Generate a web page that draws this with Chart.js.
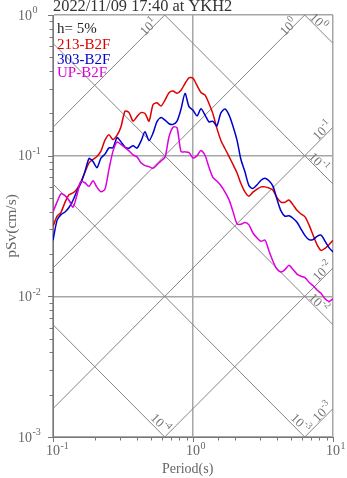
<!DOCTYPE html>
<html>
<head>
<meta charset="utf-8">
<script src="https://cdn.jsdelivr.net/npm/chart.js@4.4.1/dist/chart.umd.min.js"></script>
<style>
  html, body { margin: 0; padding: 0; background: #fff; }
  canvas { display: block; }
</style>
</head>
<body>
<canvas id="psvChart" width="347" height="478"></canvas>
<script>
// periods (s)
const periods = [
  0.100, 0.107, 0.114, 0.122, 0.130, 0.139, 0.148, 0.158, 0.169, 0.181,
  0.193, 0.206, 0.220, 0.235, 0.251, 0.268, 0.287, 0.306, 0.327, 0.349,
  0.373, 0.398, 0.425, 0.454, 0.485, 0.518, 0.553, 0.591, 0.631, 0.674,
  0.720, 0.769, 0.821, 0.877, 0.936, 1.00, 1.07, 1.14, 1.22, 1.30,
  1.39, 1.48, 1.58, 1.69, 1.81, 1.93, 2.06, 2.20, 2.35, 2.51,
  2.68, 2.87, 3.06, 3.27, 3.49, 3.73, 3.98, 4.25, 4.54, 4.85,
  5.18, 5.53, 5.91, 6.31, 6.74, 7.20, 7.69, 8.21, 8.77, 9.36,
  10.0
];

// pSv (cm/s), h = 5%
const sv213 = [
  0.0315, 0.0371, 0.0396, 0.0467, 0.0528, 0.0543, 0.0578, 0.0648, 0.0762, 0.0889,
  0.0941, 0.0988, 0.1076, 0.1289, 0.1411, 0.1301, 0.1400, 0.1608, 0.2074, 0.2024,
  0.1760, 0.1895, 0.2024, 0.1997, 0.1760, 0.2299, 0.2375, 0.2251, 0.2483, 0.2803,
  0.2877, 0.2775, 0.2917, 0.3259, 0.3579, 0.3549, 0.3144, 0.2812, 0.2695, 0.2348,
  0.1974, 0.1569, 0.1289, 0.1125, 0.0985, 0.0866, 0.0757, 0.0634, 0.0552, 0.0515,
  0.0550, 0.0578, 0.0600, 0.0600, 0.0589, 0.0568, 0.0503, 0.0468, 0.0467, 0.0484,
  0.0447, 0.0409, 0.0385, 0.0367, 0.0322, 0.0273, 0.0233, 0.0212, 0.0219, 0.0233,
  0.0250
];
const sv303 = [
  0.0250, 0.0348, 0.0381, 0.0398, 0.0428, 0.0482, 0.0559, 0.0637, 0.0768, 0.0955,
  0.0908, 0.0822, 0.0960, 0.1025, 0.1137, 0.1137, 0.1344, 0.1253, 0.1150, 0.1131,
  0.1178, 0.1131, 0.1268, 0.1477, 0.1281, 0.1446, 0.1748, 0.1867, 0.1789, 0.1686,
  0.1670, 0.1760, 0.2143, 0.2771, 0.2232, 0.2101, 0.1917, 0.2153, 0.1942, 0.1740,
  0.1755, 0.1626, 0.2007, 0.2143, 0.1942, 0.1621, 0.1294, 0.0939, 0.0768, 0.0612,
  0.0584, 0.0621, 0.0669, 0.0692, 0.0663, 0.0605, 0.0490, 0.0405, 0.0371, 0.0374,
  0.0359, 0.0336, 0.0301, 0.0270, 0.0253, 0.0253, 0.0267, 0.0272, 0.0247, 0.0222,
  0.0207
];
const svUP = [
  0.0398, 0.0469, 0.0535, 0.0520, 0.0482, 0.0430, 0.0521, 0.0657, 0.0642, 0.0605,
  0.0663, 0.0597, 0.0554, 0.0578, 0.0798, 0.1073, 0.1251, 0.1201, 0.1140, 0.1082,
  0.1013, 0.0980, 0.0889, 0.0850, 0.0836, 0.0813, 0.0860, 0.0918, 0.0973, 0.1364,
  0.1595, 0.1580, 0.1069, 0.1064, 0.1052, 0.0963, 0.1000, 0.1090, 0.1003, 0.0828,
  0.0697, 0.0660, 0.0614, 0.0553, 0.0485, 0.0401, 0.0329, 0.0325, 0.0335, 0.0322,
  0.0282, 0.0260, 0.0246, 0.0251, 0.0210, 0.0177, 0.0156, 0.0149, 0.0155, 0.0166,
  0.0155, 0.0144, 0.0139, 0.0136, 0.0126, 0.0119, 0.0111, 0.0105, 0.0096, 0.0092,
  0.0096
];

const seriesNames = ["213-B2F", "303-B2F", "UP-B2F"];
const seriesColors = ["#dd0000", "#0000cc", "#dd00dd"];
const titleText = "2022/11/09 17:40 at YKH2";
const dampingText = "h= 5%";

// tripartite guide lines
const dispLevels = [1, 0.1, 0.01, 0.001, 0.0001];   // Sd (cm)
const accLevels = [10, 1, 0.1, 0.01, 0.001];        // Sa (cm/s2)
const xTicks = [0.1, 1, 10];
const yTicks = [0.001, 0.01, 0.1, 1];

const TWO_PI = 2 * Math.PI;
const SERIF = '"Liberation Serif", "DejaVu Serif", serif';

function isDecade(v) {
    const l = Math.log10(v);
    return Math.abs(l - Math.round(l)) < 1e-6;
}

const guideSets = [];
dispLevels.forEach(sd => {
    guideSets.push({
        kind: "disp", level: sd,
        data: [{ x: 0.1, y: TWO_PI * sd / 0.1 }, { x: 10, y: TWO_PI * sd / 10 }],
        borderColor: "#858585", borderWidth: 1, pointRadius: 0, showLine: true, order: 10
    });
});
accLevels.forEach(sa => {
    guideSets.push({
        kind: "acc", level: sa,
        data: [{ x: 0.1, y: sa * 0.1 / TWO_PI }, { x: 10, y: sa * 10 / TWO_PI }],
        borderColor: "#858585", borderWidth: 1, pointRadius: 0, showLine: true, order: 10
    });
});

const dataSets = [sv213, sv303, svUP].map((vals, i) => ({
    label: seriesNames[i],
    data: periods.map((p, j) => ({ x: p, y: vals[j] })),
    borderColor: seriesColors[i],
    borderWidth: 1.5,
    pointRadius: 0,
    showLine: true,
    tension: 0.25,
    order: 3 - i
}));

// draw "10" with raised exponent
function drawPow(ctx, exp, x, y, baseSize, supSize, align) {
    const base = "10";
    const sup = String(exp);
    ctx.font = baseSize + "px " + SERIF;
    const bw = ctx.measureText(base).width;
    ctx.font = supSize + "px " + SERIF;
    const sw = ctx.measureText(sup).width;
    let x0 = x;
    if (align === "center") x0 = x - (bw + sw) / 2;
    if (align === "base-center") x0 = x - bw / 2;
    ctx.textAlign = "left";
    ctx.textBaseline = "alphabetic";
    ctx.font = baseSize + "px " + SERIF;
    ctx.fillText(base, x0, y);
    ctx.font = supSize + "px " + SERIF;
    ctx.fillText(sup, x0 + bw + 0.5, y - baseSize * 0.45);
}

const decorPlugin = {
    id: "decor",
    afterDatasetsDraw(chart) {
        const { ctx, chartArea: a, scales: { x, y } } = chart;
        ctx.save();

        // guide line labels
        chart.data.datasets.forEach(ds => {
            if (!ds.kind) return;
            const p1 = { x: x.getPixelForValue(ds.data[0].x), y: y.getPixelForValue(ds.data[0].y) };
            const p2 = { x: x.getPixelForValue(ds.data[1].x), y: y.getPixelForValue(ds.data[1].y) };
            const len = Math.hypot(p2.x - p1.x, p2.y - p1.y);
            const u = { x: (p2.x - p1.x) / len, y: (p2.y - p1.y) / len };
            // exit point at the right end of the visible part
            let t = (a.right - p1.x) / u.x;
            let side = "right";
            if (u.y < 0) {
                const tt = (a.top - p1.y) / u.y;
                if (tt < t) { t = tt; side = "top"; }
            } else {
                const tt = (a.bottom - p1.y) / u.y;
                if (tt < t) { t = tt; side = "bottom"; }
            }
            const tIn = ds.kind === "acc" ? (a.bottom - p1.y) / u.y : (a.top - p1.y) / u.y;
            if (t <= Math.max(0, tIn)) return;
            const ex = p1.x + u.x * t, ey = p1.y + u.y * t;
            let back, perp;
            if (ds.kind === "acc") { back = side === "top" ? 20 : 10; perp = side === "top" ? 4 : 6; }
            else { back = side === "right" ? 26 : 13; perp = side === "right" ? 6 : 7.5; }
            const n = { x: u.y, y: -u.x };
            const cx = ex - u.x * back + n.x * perp;
            const cy = ey - u.y * back + n.y * perp;
            ctx.save();
            ctx.translate(cx, cy);
            ctx.rotate(Math.atan2(u.y, u.x));
            ctx.fillStyle = "#747474";
            drawPow(ctx, Math.round(Math.log10(ds.level)), 0, 5, 13, 9.5, "center");
            ctx.restore();
        });

        // in-plot legend
        ctx.textAlign = "left";
        ctx.textBaseline = "alphabetic";
        ctx.font = "15px " + SERIF;
        ctx.fillStyle = "#222";
        ctx.fillText(dampingText, a.left + 4, 33);
        const rows = [48.5, 63.5, 77];
        seriesNames.forEach((name, i) => {
            ctx.fillStyle = seriesColors[i];
            ctx.fillText(name, a.left + 4, rows[i]);
        });

        ctx.restore();
    },
    afterDraw(chart) {
        const { ctx, chartArea: a, scales: { x, y } } = chart;
        ctx.save();
        ctx.strokeStyle = "#777";
        ctx.lineWidth = 1;

        // outward tick marks
        y.ticks.forEach(tk => {
            const py = Math.round(y.getPixelForValue(tk.value)) + 0.5;
            const l = isDecade(tk.value) ? 5 : 3.5;
            ctx.beginPath();
            ctx.moveTo(a.left - l, py);
            ctx.lineTo(a.left, py);
            ctx.stroke();
        });
        x.ticks.forEach(tk => {
            const px = Math.round(x.getPixelForValue(tk.value)) + 0.5;
            const l = isDecade(tk.value) ? 5 : 3.5;
            ctx.beginPath();
            ctx.moveTo(px, a.bottom);
            ctx.lineTo(px, a.bottom + l);
            ctx.stroke();
        });

        // tick labels
        ctx.fillStyle = "#666";
        yTicks.forEach(v => {
            drawPow(ctx, Math.round(Math.log10(v)), 18, y.getPixelForValue(v) + 4.5, 14, 10, "left");
        });
        xTicks.forEach(v => {
            drawPow(ctx, Math.round(Math.log10(v)), x.getPixelForValue(v), 455, 14, 10, "base-center");
        });

        // axis titles
        ctx.font = "14px " + SERIF;
        ctx.textAlign = "left";
        ctx.fillText("Period(s)", 162, 473);
        ctx.save();
        ctx.translate(16, (a.top + a.bottom) / 2);
        ctx.rotate(-Math.PI / 2);
        ctx.textAlign = "center";
        ctx.font = "15.5px " + SERIF;
        ctx.fillText("pSv(cm/s)", 0, 0);
        ctx.restore();

        // title
        ctx.fillStyle = "#333";
        ctx.font = "16.4px " + SERIF;
        ctx.textAlign = "left";
        ctx.fillText(titleText, a.left, 11);
        ctx.restore();
    }
};

const gridColor = c => (c.tick && isDecade(c.tick.value)) ? "#a6a6a6" : "rgba(0,0,0,0)";

new Chart(document.getElementById("psvChart"), {
    type: "scatter",
    data: { datasets: [...dataSets, ...guideSets] },
    options: {
        responsive: false,
        animation: false,
        layout: { padding: { top: 15, right: 14, left: 0, bottom: 0 } },
        plugins: {
            legend: { display: false },
            tooltip: { enabled: false },
            title: { display: false }
        },
        scales: {
            x: {
                type: "logarithmic",
                min: 0.1,
                max: 10,
                ticks: { display: false },
                grid: { drawTicks: false, color: gridColor, lineWidth: 1.5 },
                border: { color: "#777", width: 1 },
                afterFit: s => { s.height = 41; }
            },
            y: {
                type: "logarithmic",
                min: 0.001,
                max: 1,
                ticks: { display: false },
                grid: { drawTicks: false, color: gridColor, lineWidth: 1.5 },
                border: { color: "#777", width: 1 },
                afterFit: s => { s.width = 53; }
            }
        }
    },
    plugins: [decorPlugin]
});
</script>
</body>
</html>
